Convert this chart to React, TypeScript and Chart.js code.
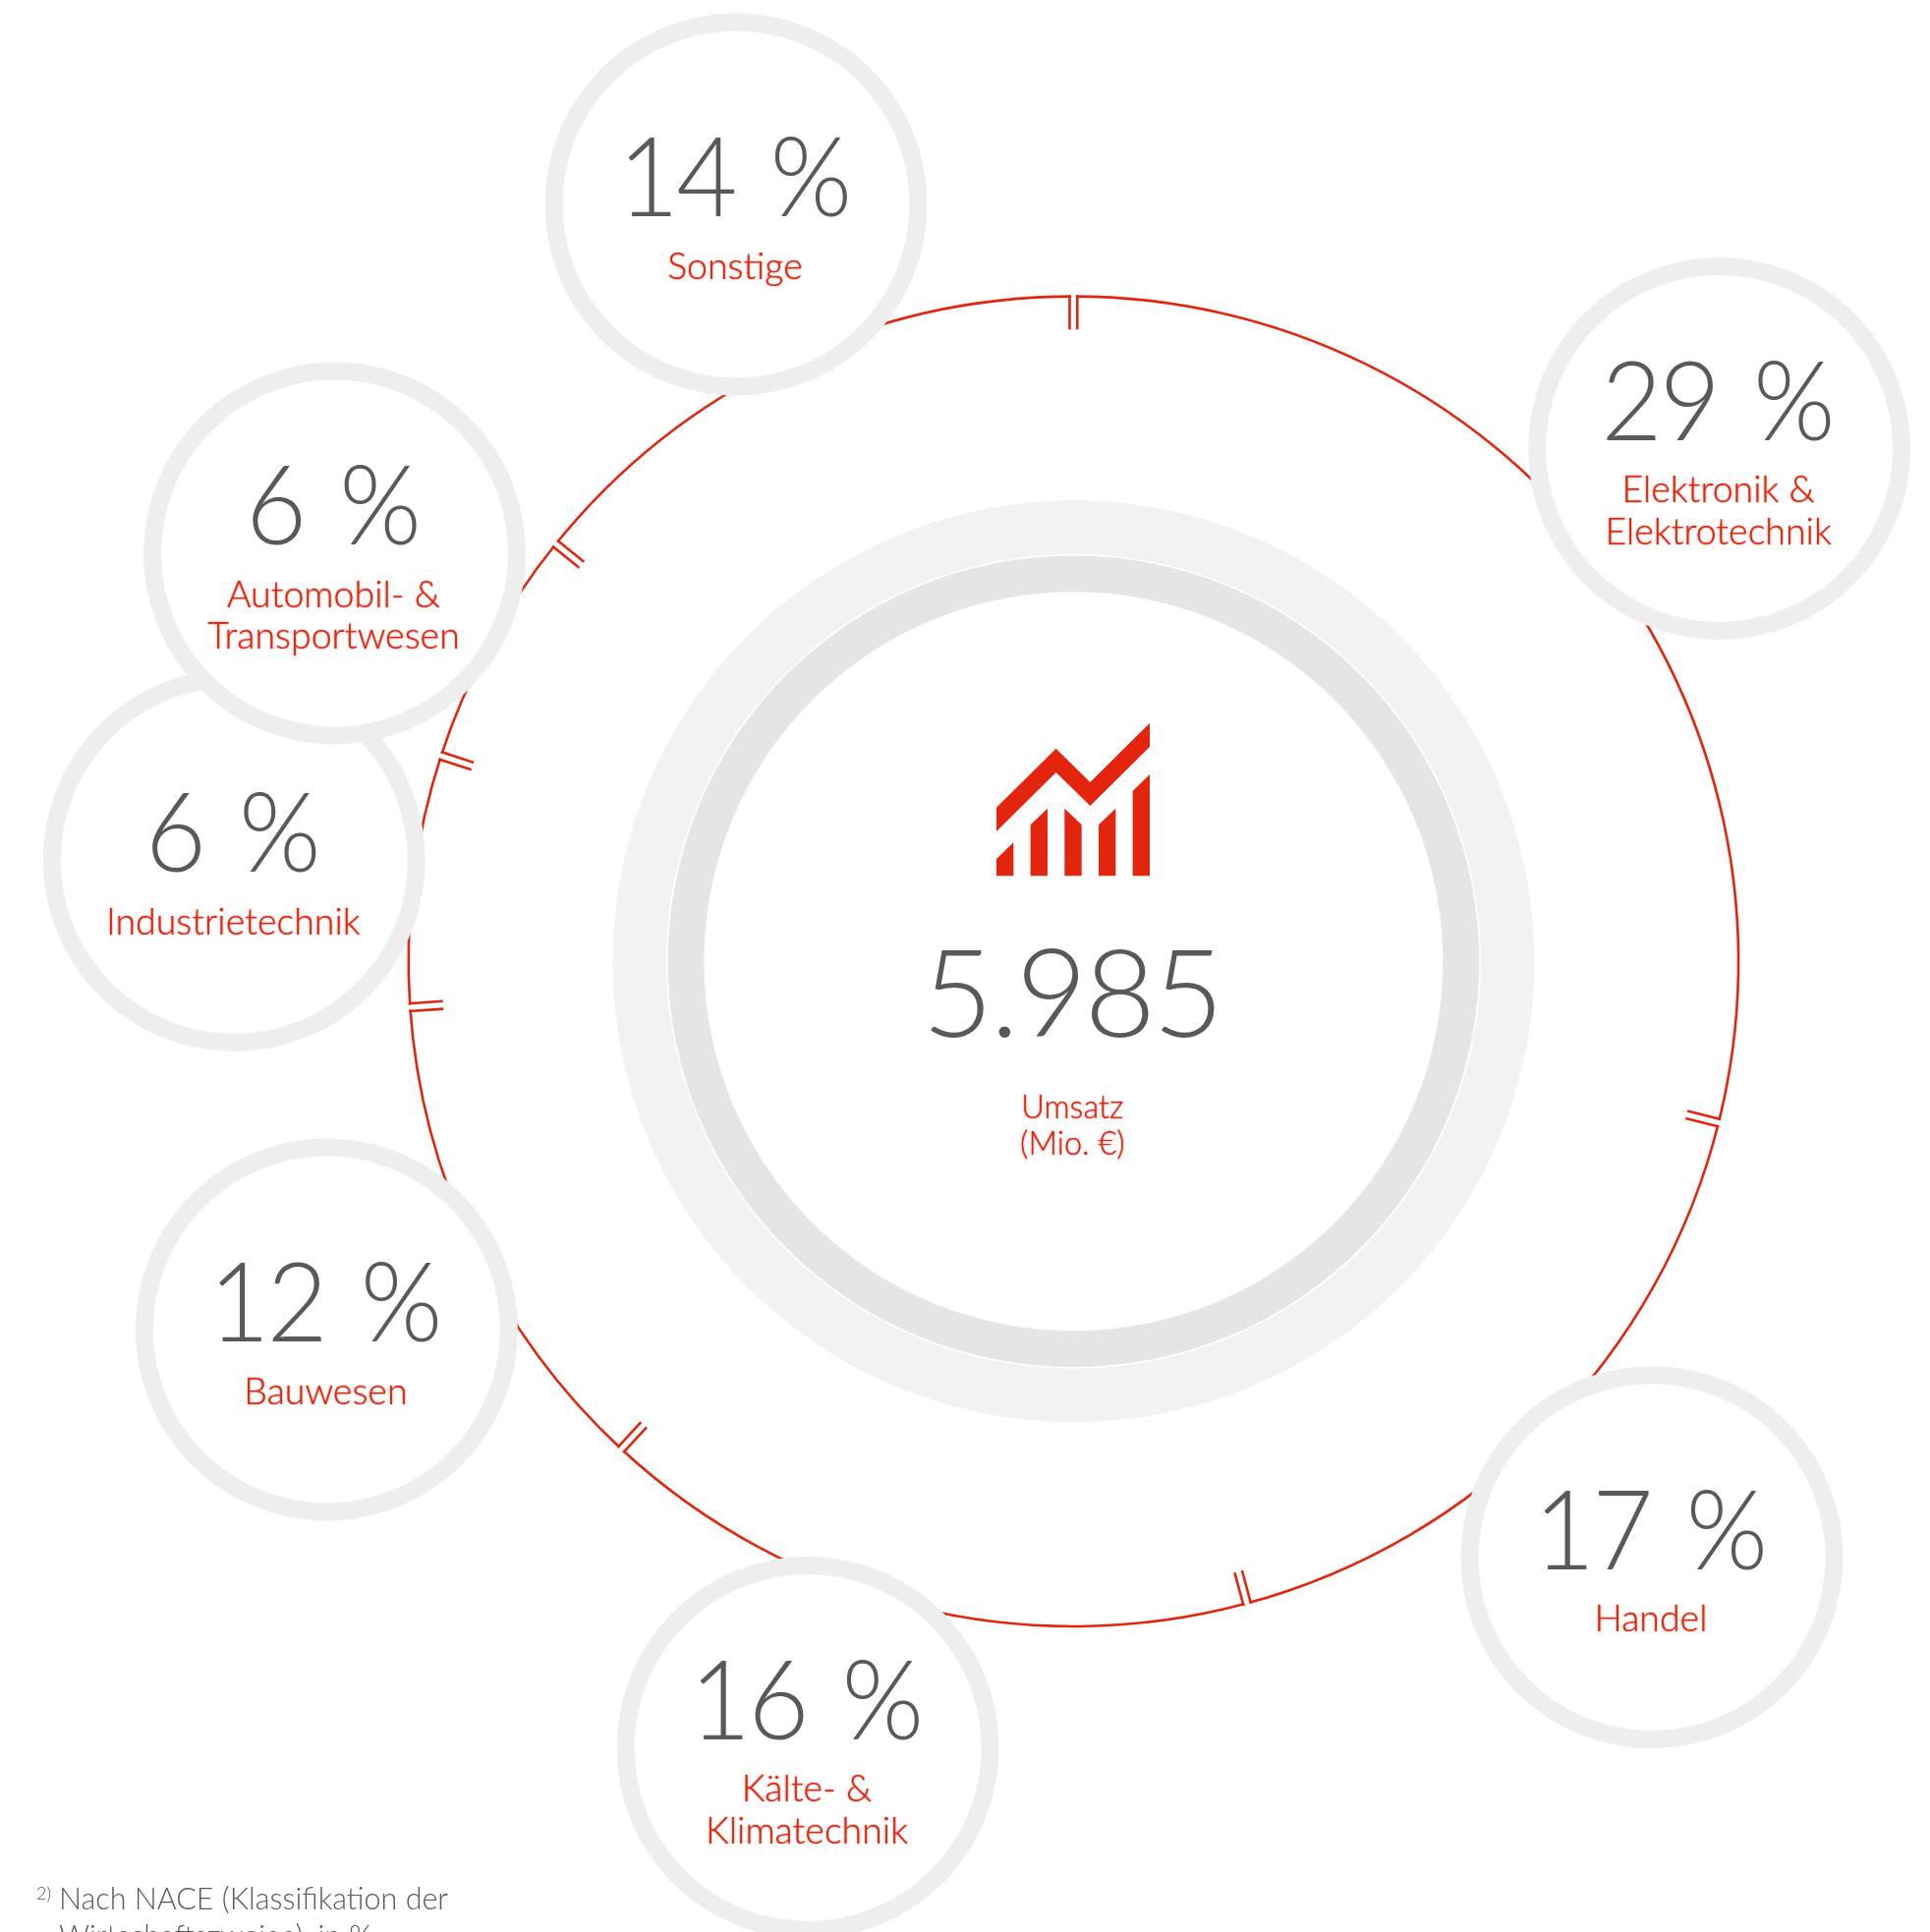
import React, { useEffect, useRef } from "react";
import { Chart, registerables } from "chart.js";

Chart.register(...registerables);

// ---- data ----
const categories = [
  "Elektronik & Elektrotechnik",
  "Handel",
  "Kälte- & Klimatechnik",
  "Bauwesen",
  "Industrietechnik",
  "Automobil- & Transportwesen",
  "Sonstige",
];
const shares = [28.9, 16.9, 16.1, 12, 6.1, 5.8, 14.2];
const labelLines = [
  ["Elektronik &", "Elektrotechnik"],
  ["Handel"],
  ["Kälte- &", "Klimatechnik"],
  ["Bauwesen"],
  ["Industrietechnik"],
  ["Automobil- &", "Transportwesen"],
  ["Sonstige"],
];
const totalValue = "5.985";
const totalLabel = ["Umsatz", "(Mio. €)"];
const footnote = ["Nach NACE (Klassifikation der", "Wirtschaftszweige), in %"];

// ---- layout and style (not data) ----
const W = 1964;
const H = 1966;
const CX = 1092.4;
const CY = 978.3;
const RED = "#e3250e";
const GREY = "#58595b";
const FONT = "Lato";
const bubbleCentres = [
  [1749.6, 456.5],
  [1681, 1584.7],
  [822, 1778.5],
  [332.4, 1353],
  [238.3, 875.4],
  [340.5, 563],
  [749, 208],
];
const iconPolys = [
  [192, 365, 374, 185, 478, 288, 660, 107, 660, 180, 478, 360, 374, 258, 192, 438],
  [192, 522, 244, 472, 244, 574, 192, 574],
  [296, 418, 348, 368, 348, 574, 296, 574],
  [400, 368, 452, 418, 452, 574, 400, 574],
  [504, 418, 556, 368, 556, 574, 504, 574],
  [608, 315, 660, 264, 660, 574, 608, 574],
];

const infographic = {
  id: "infographic",
  afterDatasetsDraw(chart: any) {
    const ctx = chart.ctx as CanvasRenderingContext2D;
    const arcs = chart.getDatasetMeta(0).data;
    ctx.save();

    // separators on the red ring
    arcs.forEach((arc: any) => {
      const a = arc.startAngle;
      const r = arc.outerRadius;
      const cx = arc.x;
      const cy = arc.y;
      const ux = Math.cos(a), uy = Math.sin(a);
      const px = -uy, py = ux;
      ctx.strokeStyle = "#ffffff";
      ctx.lineWidth = 5.2;
      ctx.beginPath();
      ctx.moveTo(cx + ux * (r - 5), cy + uy * (r - 5));
      ctx.lineTo(cx + ux * (r + 2), cy + uy * (r + 2));
      ctx.stroke();
      ctx.strokeStyle = RED;
      ctx.lineWidth = 2.6;
      [-3.9, 3.9].forEach((o) => {
        ctx.beginPath();
        ctx.moveTo(cx + ux * r + px * o, cy + uy * r + py * o);
        ctx.lineTo(cx + ux * (r - 35) + px * o, cy + uy * (r - 35) + py * o);
        ctx.stroke();
      });
    });

    // bubbles, in slice order so that later ones cover earlier ones
    ctx.textAlign = "center";
    ctx.textBaseline = "alphabetic";
    chart.data.datasets[0].data.forEach((v: number, i: number) => {
      const [x, y] = bubbleCentres[i];
      ctx.beginPath();
      ctx.arc(x, y, 185.5, 0, Math.PI * 2);
      ctx.fillStyle = "#ffffff";
      ctx.fill();
      ctx.strokeStyle = "#eeeeee";
      ctx.lineWidth = 18;
      ctx.stroke();
      const lines = labelLines[i];
      const two = lines.length > 1;
      ctx.fillStyle = GREY;
      ctx.font = `300 113px ${FONT}`;
      ctx.save();
      ctx.translate(x - 2.5, y + (two ? -9 : 12));
      ctx.scale(0.95, 1);
      (ctx as any).letterSpacing = "-3px";
      (ctx as any).wordSpacing = "10px";
      ctx.fillText(`${Math.round(v)} %`, 0, 0);
      ctx.restore();
      ctx.save();
      ctx.fillStyle = RED;
      ctx.shadowColor = RED;
      ctx.shadowBlur = 1.5;
      ctx.font = `300 37.5px ${FONT}`;
      lines.forEach((l, k) => {
        ctx.fillText(l, x - 1, y + (two ? 54.5 + k * 42.6 : 75.5));
      });
      ctx.restore();
    });

    // centre icon
    ctx.fillStyle = RED;
    iconPolys.forEach((p) => {
      ctx.beginPath();
      for (let i = 0; i < p.length; i += 2) {
        const x = 950 + p[i] / 3, y = 700 + p[i + 1] / 3;
        if (i === 0) ctx.moveTo(x, y);
        else ctx.lineTo(x, y);
      }
      ctx.closePath();
      ctx.fill();
    });

    // centre figure
    ctx.fillStyle = GREY;
    ctx.font = `300 125px ${FONT}`;
    (ctx as any).letterSpacing = "-3px";
    ctx.fillText(totalValue, CX - 2, 1055);
    (ctx as any).letterSpacing = "0px";
    ctx.save();
    ctx.fillStyle = RED;
    ctx.shadowColor = RED;
    ctx.shadowBlur = 1.5;
    ctx.font = `300 32.5px ${FONT}`;
    totalLabel.forEach((l, k) => ctx.fillText(l, CX - 1, 1137.5 + k * 37));
    ctx.restore();

    // footnote
    ctx.textAlign = "left";
    ctx.fillStyle = GREY;
    ctx.font = `300 18px ${FONT}`;
    ctx.fillText("2)", 37, 1933);
    ctx.font = `300 30.5px ${FONT}`;
    footnote.forEach((l, k) => ctx.fillText(l, 60, 1943 + k * 38));
    ctx.restore();
  },
};

export default function App() {
  const ref = useRef<HTMLCanvasElement>(null);
  useEffect(() => {
    const chart = new Chart(ref.current as HTMLCanvasElement, {
      type: "doughnut",
      data: {
        labels: categories,
        datasets: [
          { data: shares, backgroundColor: RED, borderWidth: 0, weight: 2.6 },
          { data: [1], backgroundColor: "rgba(0,0,0,0)", borderWidth: 0, weight: 206.4 },
          { data: [1], backgroundColor: "#f2f2f2", borderWidth: 0, weight: 54.5 },
          { data: [1], backgroundColor: "#ffffff", borderWidth: 0, weight: 1.5 },
          { data: [1], backgroundColor: "#e4e6e5", borderWidth: 0, weight: 37 },
        ],
      } as any,
      options: {
        animation: false,
        responsive: false,
        devicePixelRatio: 1,
        radius: 678,
        cutout: `${(376 / 678) * 100}%`,
        layout: {
          padding: { left: 2 * CX - W, top: 0, right: 0, bottom: H - 2 * CY },
        },
        plugins: { legend: { display: false }, tooltip: { enabled: false } },
      } as any,
      plugins: [infographic],
    });
    return () => chart.destroy();
  }, []);
  return (
    <canvas
      ref={ref}
      width={W}
      height={H}
      style={{ position: "absolute", left: 0, top: 0, display: "block" }}
    />
  );
}
